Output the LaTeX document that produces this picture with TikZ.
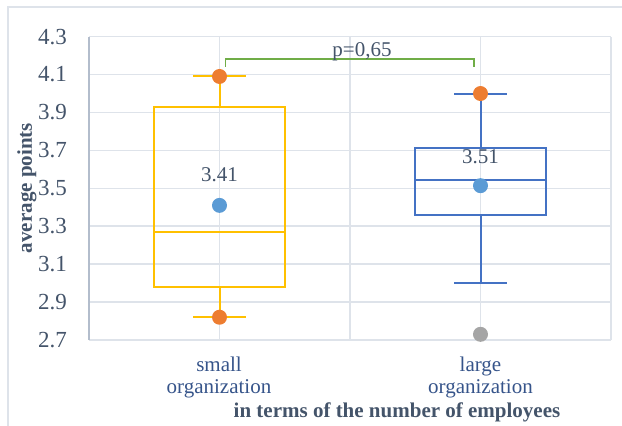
\documentclass[tikz,border=0pt]{standalone}
\usepackage{fontspec}
\setmainfont{Liberation Serif}

\definecolor{gridc}{HTML}{DEE3EA}
\definecolor{axisc}{HTML}{B3BDCC}
\definecolor{textc}{HTML}{44546A}
\definecolor{catc}{HTML}{36548A}
\definecolor{smallc}{HTML}{FFC000}
\definecolor{largec}{HTML}{4472C4}
\definecolor{dotc}{HTML}{ED7D31}
\definecolor{meanc}{HTML}{5B9BD5}
\definecolor{outc}{HTML}{A5A5A5}
\definecolor{pc}{HTML}{70AD47}

\tikzset{
  grid/.style={gridc, line width=1.5pt},
  smallbox/.style={smallc, line width=2pt},
  largebox/.style={largec, line width=2pt},
  lbl/.style={text=textc, inner sep=0pt, font=\fontsize{21}{24}\selectfont},
  ticklbl/.style={text=textc, inner sep=0pt, anchor=east, font=\fontsize{23}{26}\selectfont},
  catlbl/.style={text=catc, inner sep=0pt, anchor=base, font=\fontsize{21}{24}\selectfont},
  ttl/.style={text=textc, inner sep=0pt, font=\fontsize{21}{24}\selectfont\bfseries}
}

\begin{document}
\begin{tikzpicture}[x=1pt,y=1pt]
\useasboundingbox (0,0) rectangle (622,426);
% chart frame
\draw[gridc, line width=1.5pt] (8,0) -- (8,419) -- (622,419);
% plot area: value v sits at 189.6pt*v - 425.92pt
\begin{scope}[y=189.6pt, yshift=-425.92pt]
\foreach \v in {2.7,2.9,3.1,3.3,3.5,3.7,3.9,4.1,4.3}
  \draw[grid] (89,\v) -- (611,\v);
\foreach \x in {219.5,350,480.5,611}
  \draw[grid] (\x,2.7) -- (\x,4.3);
\draw[axisc, line width=2pt] (89,2.7) -- (89,4.3);
\foreach \v [count=\i] in {2.7,2.9,3.1,3.3,3.5,3.7,3.9,4.1,4.3}
  \node[ticklbl] (tick\i) at (67,\v) {\v};

% small organization
\draw[smallbox] (219.5,3.93) -- (219.5,4.09);
\draw[smallbox] (219.5,2.98) -- (219.5,2.82);
\draw[smallbox] (193,4.09) -- (246,4.09);
\draw[smallbox] (193,2.82) -- (246,2.82);
\draw[smallbox] (154,2.98) rectangle (285,3.93);
\draw[smallbox] (154,3.27) -- (285,3.27);
\fill[meanc] (219.5,3.41) circle (7.5pt);
\fill[dotc] (219.5,4.09) circle (7.5pt);
\fill[dotc] (219.5,2.82) circle (7.5pt);
\node[lbl] (meansmall) at (219.5,3.572) {3.41};

% large organization
\draw[largebox] (480.5,3.71) -- (480.5,4.0);
\draw[largebox] (480.5,3.36) -- (480.5,3.0);
\draw[largebox] (454,4.0) -- (507,4.0);
\draw[largebox] (454,3.0) -- (507,3.0);
\draw[largebox] (415,3.36) rectangle (546,3.71);
\draw[largebox] (415,3.544) -- (546,3.544);
\fill[meanc] (480.5,3.514) circle (7.5pt);
\fill[dotc] (480.5,4.0) circle (7.5pt);
\fill[outc] (480.5,2.73) circle (7.5pt);
\node[lbl] (meanlarge) at (480.5,3.667) {3.51};

% significance bracket
\draw[pc, line width=1.5pt] (225.7,4.142) -- (225.7,4.181) -- (474,4.181) -- (474,4.142);
\node[lbl, anchor=base] (pval) at (362,4.193) {p=0,65};
\end{scope}

% axis labels
\node[catlbl] (small1) at (219,54.3) {small};
\node[catlbl] (small2) at (219,32) {organization};
\node[catlbl] (large1) at (480.5,54.3) {large};
\node[catlbl] (large2) at (480.5,32) {organization};
\node[ttl, anchor=base] (xtitle) at (397,8.7) {in terms of the number of employees};
\node[ttl, rotate=90] (ytitle) at (27,238) {average points};
\end{tikzpicture}
\end{document}
